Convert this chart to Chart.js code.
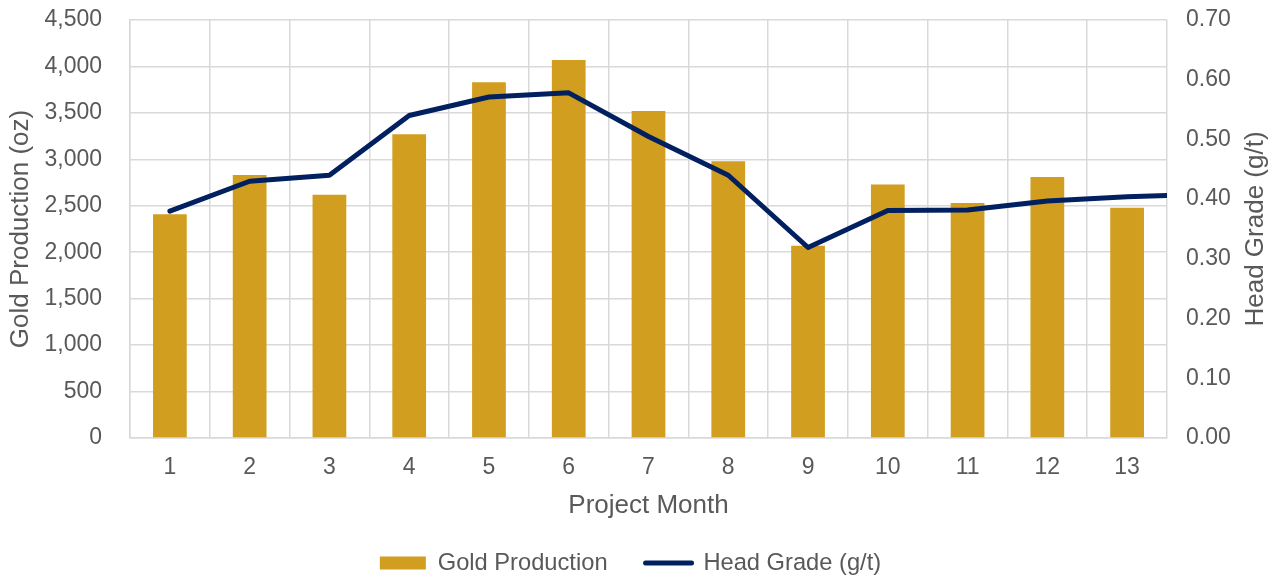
<!DOCTYPE html>
<html>
<head>
<meta charset="utf-8">
<script src="https://cdn.jsdelivr.net/npm/chart.js@4/dist/chart.umd.min.js"></script>
<style>
  html, body { margin: 0; padding: 0; background: #ffffff; }
  #wrap { width: 1281px; height: 579px; }
</style>
</head>
<body>
<div id="wrap"><canvas id="c" width="1281" height="579"></canvas></div>
<script>
// ---- data ----
const months = ['1', '2', '3', '4', '5', '6', '7', '8', '9', '10', '11', '12', '13'];
const goldProduction = [2410, 2830, 2620, 3270, 3830, 4070, 3520, 2980, 2070, 2730, 2530, 2810, 2480];
// head grade per month; the last value lies past month 13 (the line runs on to the plot edge)
const headGrade = [0.380, 0.430, 0.440, 0.540, 0.571, 0.578, 0.505, 0.440, 0.319, 0.381, 0.382, 0.397, 0.404, 0.408];
const leftTickLabels = ['0', '500', '1,000', '1,500', '2,000', '2,500', '3,000', '3,500', '4,000', '4,500'];
const rightTickLabels = ['0.00', '0.10', '0.20', '0.30', '0.40', '0.50', '0.60', '0.70'];
const seriesNames = ['Gold Production', 'Head Grade (g/t)'];
const axisTitles = { x: 'Project Month', left: 'Gold Production (oz)', right: 'Head Grade (g/t)' };

// ---- style ----
const FONT = "'Liberation Sans', Arial, sans-serif";
const TEXT = '#595959';
const GRID = '#D9D9D9';
const GOLD = '#D19E1F';
const NAVY = '#002060';

const rightTitlePlugin = {
  id: 'rightTitle',
  afterDraw(chart) {
    const ctx = chart.ctx;
    const ca = chart.chartArea;
    ctx.save();
    ctx.translate(chart.width - 25.5, (ca.top + ca.bottom) / 2);
    ctx.rotate(-Math.PI / 2);
    ctx.font = '26px ' + FONT;
    ctx.fillStyle = TEXT;
    ctx.textAlign = 'center';
    ctx.textBaseline = 'middle';
    ctx.fillText(axisTitles.right, 0, 0);
    ctx.restore();
  }
};

// one hidden extra category slot so the last line segment can run past month 13
const categoryLabels = months.concat(['']);

function noEdgePadding(scale) {
  scale.paddingTop = 0;
  scale.paddingBottom = 0;
}

new Chart(document.getElementById('c'), {
  type: 'bar',
  data: {
    labels: categoryLabels,
    datasets: [
      {
        type: 'bar',
        label: seriesNames[0],
        data: goldProduction,
        backgroundColor: GOLD,
        borderWidth: 0,
        yAxisID: 'y',
        categoryPercentage: 1.0,
        barPercentage: 0.423,
        order: 2
      },
      {
        type: 'line',
        label: seriesNames[1],
        data: headGrade,
        borderColor: NAVY,
        backgroundColor: NAVY,
        borderWidth: 5,
        borderCapStyle: 'round',
        borderJoinStyle: 'round',
        tension: 0,
        pointRadius: 0,
        pointHoverRadius: 0,
        fill: false,
        yAxisID: 'y1',
        clip: 0,
        order: 1
      }
    ]
  },
  options: {
    responsive: false,
    animation: false,
    devicePixelRatio: 1,
    layout: { padding: { top: 20, right: 20, bottom: -5.85, left: 0 } },
    plugins: {
      tooltip: { enabled: false },
      legend: {
        position: 'bottom',
        align: 'center',
        labels: {
          font: { family: FONT, size: 23.7 },
          color: TEXT,
          usePointStyle: true,
          pointStyleWidth: 46,
          boxHeight: 13,
          padding: 38,
          sort: (a, b) => a.datasetIndex - b.datasetIndex,
          generateLabels(chart) {
            const items = Chart.defaults.plugins.legend.labels.generateLabels(chart);
            items.forEach(it => {
              if (it.datasetIndex === 1) {
                it.pointStyle = 'line';
                it.strokeStyle = NAVY;
                it.lineWidth = 5;
                it.lineCap = 'round';
              } else {
                it.pointStyle = 'rect';
                it.fillStyle = GOLD;
                it.lineWidth = 0;
              }
              it.fontColor = TEXT;
            });
            return items;
          }
        }
      }
    },
    scales: {
      x: {
        type: 'category',
        position: 'bottom',
        offset: true,
        grid: { display: true, offset: true, color: GRID, lineWidth: 1.5, drawTicks: false },
        border: { display: true, color: GRID, width: 1.5 },
        ticks: { font: { family: FONT, size: 23 }, color: TEXT, padding: 16, maxRotation: 0, autoSkip: false },
        title: {
          display: true,
          text: axisTitles.x,
          font: { family: FONT, size: 26 },
          color: TEXT,
          padding: { top: 0, bottom: -8.6 }
        },
        afterDataLimits(scale) { scale.min = 0; scale.max = months.length - 1; },
        afterFit(scale) { scale.height = 75.15; }
      },
      y: {
        type: 'linear',
        position: 'left',
        min: 0,
        max: 4500,
        grid: { color: GRID, lineWidth: 1.5, drawTicks: false },
        border: { display: true, color: GRID, width: 1.5 },
        ticks: {
          stepSize: 500,
          font: { family: FONT, size: 23 },
          color: TEXT,
          padding: 28,
          callback: (v, i) => leftTickLabels[i]
        },
        title: {
          display: true,
          text: axisTitles.left,
          font: { family: FONT, size: 26 },
          color: TEXT,
          padding: { top: 5, bottom: 0 }
        },
        afterFit(scale) { scale.width = 130; noEdgePadding(scale); }
      },
      y1: {
        type: 'linear',
        position: 'right',
        min: 0,
        max: 0.7,
        grid: { display: false, drawTicks: false },
        border: { display: false },
        ticks: {
          stepSize: 0.1,
          font: { family: FONT, size: 23 },
          color: TEXT,
          padding: 19,
          callback: (v, i) => rightTickLabels[i]
        },
        afterFit(scale) { scale.width = 94; noEdgePadding(scale); }
      }
    }
  },
  plugins: [rightTitlePlugin]
});
</script>
</body>
</html>
